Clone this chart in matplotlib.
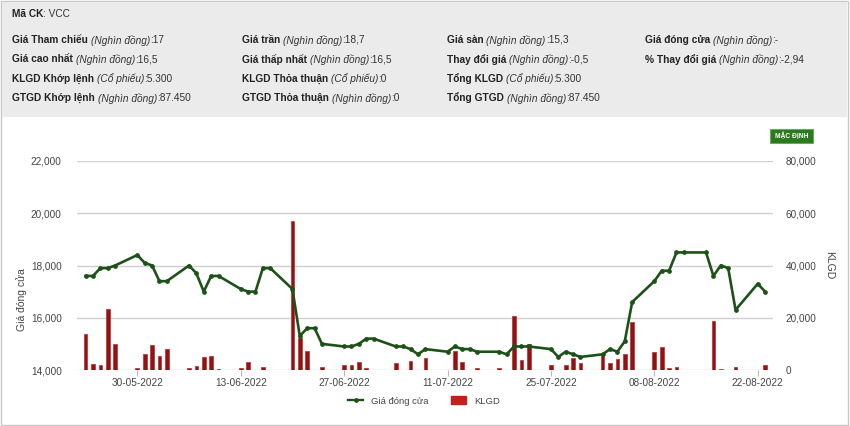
import matplotlib
matplotlib.use('Agg')
import matplotlib.pyplot as plt
import matplotlib.dates as mdates
from matplotlib import font_manager
from matplotlib.lines import Line2D
from matplotlib.patches import Patch, Rectangle
import pandas as pd

W, H = 850, 426

# trading days, one line per week
dates = [
    '2022-05-23', '2022-05-24', '2022-05-25', '2022-05-26', '2022-05-27',
    '2022-05-30', '2022-05-31', '2022-06-01', '2022-06-02', '2022-06-03',
    '2022-06-06', '2022-06-07', '2022-06-08', '2022-06-09', '2022-06-10',
    '2022-06-13', '2022-06-14', '2022-06-15', '2022-06-16', '2022-06-17',
    '2022-06-20', '2022-06-21', '2022-06-22', '2022-06-23', '2022-06-24',
    '2022-06-27', '2022-06-28', '2022-06-29', '2022-06-30', '2022-07-01',
    '2022-07-04', '2022-07-05', '2022-07-06', '2022-07-07', '2022-07-08',
    '2022-07-11', '2022-07-12', '2022-07-13', '2022-07-14', '2022-07-15',
    '2022-07-18', '2022-07-19', '2022-07-20', '2022-07-21', '2022-07-22',
    '2022-07-25', '2022-07-26', '2022-07-27', '2022-07-28', '2022-07-29',
    '2022-08-01', '2022-08-02', '2022-08-03', '2022-08-04', '2022-08-05',
    '2022-08-08', '2022-08-09', '2022-08-10', '2022-08-11', '2022-08-12',
    '2022-08-15', '2022-08-16', '2022-08-17', '2022-08-18', '2022-08-19',
    '2022-08-22', '2022-08-23',
]

gia_dong_cua = [
    17600, 17600, 17900, 17900, 18000,
    18400, 18100, 18000, 17400, 17400,
    18000, 17700, 17000, 17600, 17600,
    17100, 17000, 17000, 17900, 17900,
    17100, 15300, 15600, 15600, 15000,
    14900, 14900, 15000, 15200, 15200,
    14900, 14900, 14800, 14600, 14800,
    14700, 14900, 14800, 14800, 14700,
    14700, 14600, 14900, 14900, 14900,
    14800, 14500, 14700, 14600, 14500,
    14600, 14800, 14700, 15100, 16600,
    17400, 17800, 17800, 18500, 18500,
    18500, 17600, 18000, 17900, 16300,
    17300, 17000,
]

klgd = [
    13700, 2200, 1900, 23500, 9900,
    800, 6000, 9500, 5300, 8100,
    800, 1500, 5000, 5300, 400,
    800, 2900, 0, 1000, 0,
    57000, 12200, 7400, 0, 1200,
    1900, 1900, 3200, 900, 0,
    2800, 0, 3500, 0, 4600,
    0, 7400, 3200, 0, 800,
    800, 0, 20600, 4000, 9900,
    1800, 0, 1800, 4600, 2800,
    6400, 2800, 4200, 6300, 18200,
    7000, 8700, 800, 1200, 0,
    0, 18800, 300, 0, 1200,
    0, 1900,
]

tick_dates = ['2022-05-30', '2022-06-13', '2022-06-27', '2022-07-11',
              '2022-07-25', '2022-08-08', '2022-08-22']

# header columns: (label, unit, value)
header_cols = [
    [('Giá Tham chiếu', '(Nghìn đồng)', '17'),
     ('Giá cao nhất', '(Nghìn đồng)', '16,5'),
     ('KLGD Khớp lệnh', '(Cổ phiếu)', '5.300'),
     ('GTGD Khớp lệnh', '(Nghìn đồng)', '87.450')],
    [('Giá trần', '(Nghìn đồng)', '18,7'),
     ('Giá thấp nhất', '(Nghìn đồng)', '16,5'),
     ('KLGD Thỏa thuận', '(Cổ phiếu)', '0'),
     ('GTGD Thỏa thuận', '(Nghìn đồng)', '0')],
    [('Giá sàn', '(Nghìn đồng)', '15,3'),
     ('Thay đổi giá', '(Nghìn đồng)', '-0,5'),
     ('Tổng KLGD', '(Cổ phiếu)', '5.300'),
     ('Tổng GTGD', '(Nghìn đồng)', '87.450')],
    [('Giá đóng cửa', '(Nghìn đồng)', '-'),
     ('% Thay đổi giá', '(Nghìn đồng)', '-2,94')],
]

installed = {f.name for f in font_manager.fontManager.ttflist}
if 'Liberation Sans Narrow' in installed:
    FONT = ['Liberation Sans Narrow', 'DejaVu Sans']
    HEAD_SIZE = 8.5
else:
    FONT = ['Liberation Sans', 'DejaVu Sans']
    HEAD_SIZE = 7.3
plt.rcParams['font.family'] = FONT


def px(x, y):
    """pixel position (from top-left) -> figure fraction"""
    return x / W, 1 - y / H


def draw_field(fig, renderer, x, y, label, unit, value):
    fx, fy = px(x, y)
    t = fig.text(fx, fy, label + (' ' if unit else ''), fontsize=HEAD_SIZE,
                 fontweight='bold', color='#222222', va='center')
    x1 = t.get_window_extent(renderer).x1
    if unit:
        t = fig.text(x1 / W, fy, unit, fontsize=HEAD_SIZE, fontstyle='italic',
                     color='#333333', va='center')
        x1 = t.get_window_extent(renderer).x1
    fig.text(x1 / W, fy, ':' + value, fontsize=HEAD_SIZE, color='#333333', va='center')


def plot_chart():
    fig = plt.figure(figsize=(W / 100, H / 100), dpi=100)
    renderer = fig.canvas.get_renderer()

    # frame and header box
    fig.patches.append(Rectangle((1 / W, 1 / H), 847 / W, 424 / H, transform=fig.transFigure,
                                 facecolor='white', edgecolor='#c8c8c8', lw=1, zorder=-2))
    fig.patches.append(Rectangle(px(2, 117), 845 / W, 115 / H, transform=fig.transFigure,
                                 facecolor='#ebebeb', edgecolor='none', zorder=-1))

    draw_field(fig, renderer, 12, 14, 'Mã CK', '', ' VCC')
    col_x = [12, 242, 447, 645]
    row_y = [40, 59.5, 79, 98]
    for cx, fields in zip(col_x, header_cols):
        for ry, (label, unit, value) in zip(row_y, fields):
            draw_field(fig, renderer, cx, ry, label, unit, value)

    # "MẶC ĐỊNH" button
    fig.patches.append(Rectangle(px(770, 143), 43 / W, 14 / H, transform=fig.transFigure,
                                 facecolor='#2b7a1e', edgecolor='#6aa85c', lw=0.8))
    fig.text(*px(791.5, 136), 'MẶC ĐỊNH', fontsize=4.8, color='white',
             ha='center', va='center', fontweight='bold')

    ax = fig.add_axes([77 / W, (H - 370) / H, (773 - 77) / W, (370 - 161) / H])
    ax2 = ax.twinx()

    x = mdates.date2num(pd.to_datetime(dates))
    vol = pd.Series(klgd, index=x)
    vol = vol[vol > 0]

    ax2.bar(vol.index, vol.values, width=0.5, color='#8c1414',
            edgecolor='#c43a3a', linewidth=0.6, zorder=2)
    ax2.set_ylim(0, 80000)
    ax2.set_yticks([0, 20000, 40000, 60000, 80000])
    ax2.set_yticklabels([f'{v:,}' for v in [0, 20000, 40000, 60000, 80000]])
    ax2.grid(axis='y', color='#d0d0d0', lw=1)
    ax2.set_axisbelow(True)

    ax.plot(x, gia_dong_cua, color='#1c5218', lw=1.9, marker='o', ms=2.4, zorder=3)
    ax.set_ylim(14000, 22000)
    ax.set_yticks([14000, 16000, 18000, 20000, 22000])
    ax.set_yticklabels([f'{v:,}' for v in [14000, 16000, 18000, 20000, 22000]])

    ref = mdates.date2num(pd.Timestamp('2022-05-30'))
    ax.set_xlim(ref - (137.3 - 77) / 7.386, ref + (773 - 137.3) / 7.386)
    ax.set_xticks(mdates.date2num(pd.to_datetime(tick_dates)))
    ax.set_xticklabels(pd.to_datetime(tick_dates).strftime('%d-%m-%Y'))

    ax.set_zorder(ax2.get_zorder() + 1)
    ax.patch.set_visible(False)

    for a in (ax, ax2):
        for s in a.spines.values():
            s.set_visible(False)
    ax.tick_params(axis='x', length=4, color='#bbbbbb', labelsize=7.2,
                   labelcolor='#444444', pad=2)
    ax.tick_params(axis='y', length=0, labelsize=7.2, labelcolor='#444444', pad=11)
    ax2.tick_params(axis='y', length=0, labelsize=7.2, labelcolor='#444444', pad=9)

    fig.text(*px(22, 300), 'Giá đóng cửa', rotation=90, ha='center', va='center',
             fontsize=7.5, color='#444444')
    fig.text(*px(829, 265), 'KLGD', rotation=270, ha='center', va='center',
             fontsize=7.5, color='#444444')

    handles = [Line2D([0], [0], color='#1c5218', lw=1.7, marker='o', ms=2.4),
               Patch(facecolor='#c0201e', edgecolor='#c0201e')]
    fig.legend(handles, ['Giá đóng cửa', 'KLGD'], loc='center', ncol=2,
               bbox_to_anchor=px(424, 401), frameon=False, fontsize=6.8,
               handlelength=1.6, handleheight=0.9, columnspacing=2.4,
               labelcolor='#444444')

    fig.savefig('out.png', dpi=100)


def main():
    plot_chart()


if __name__ == '__main__':
    main()
